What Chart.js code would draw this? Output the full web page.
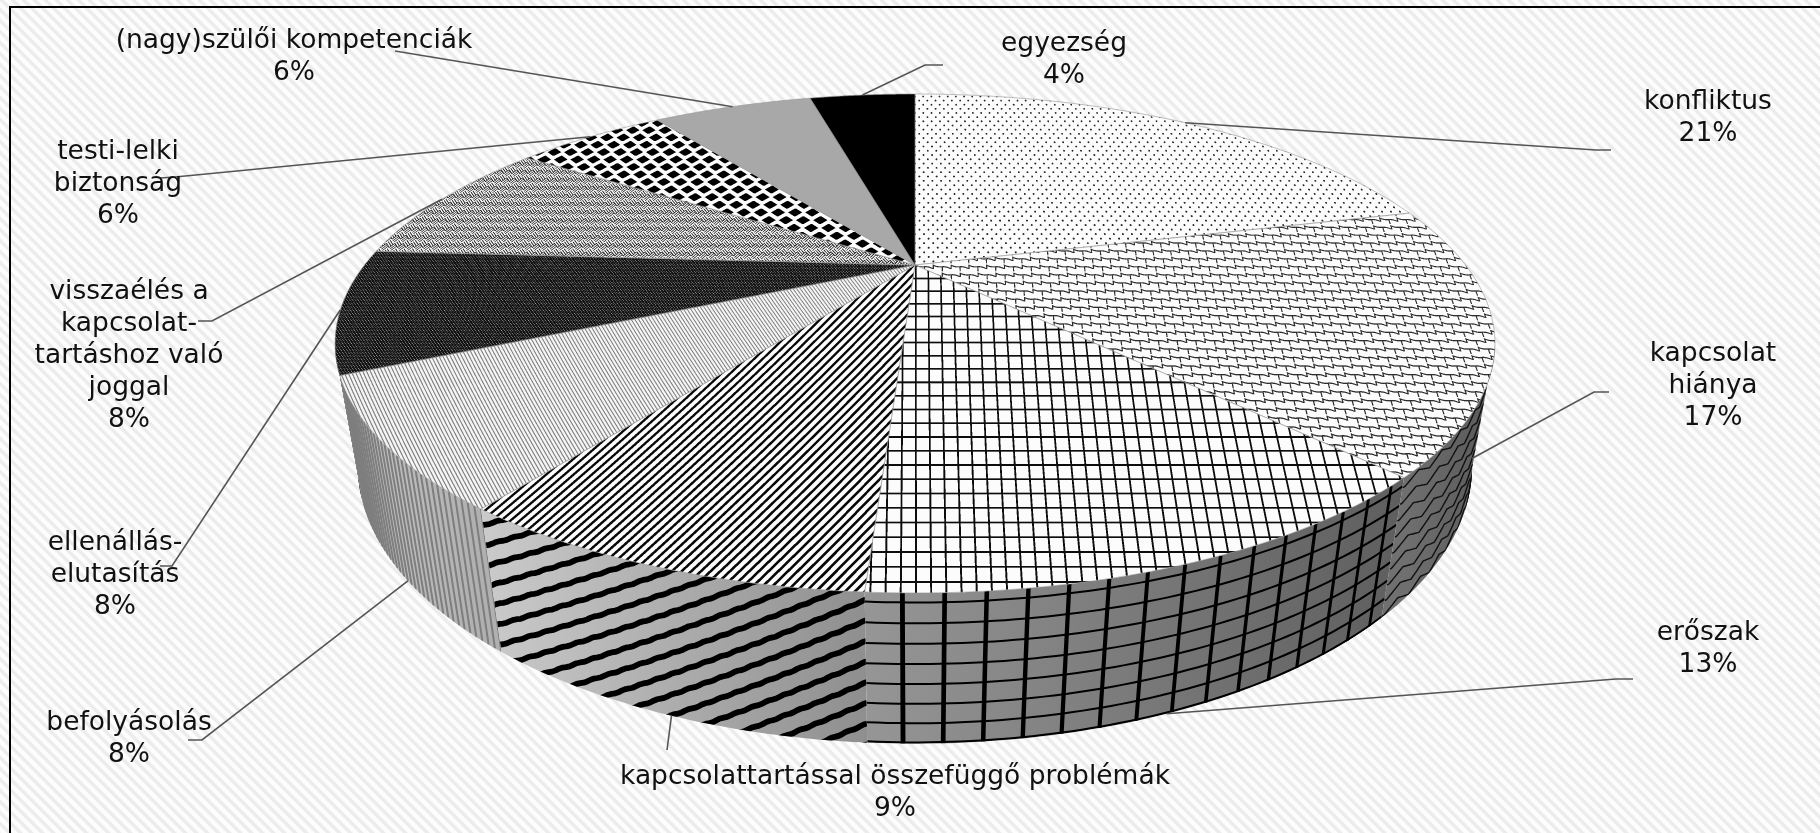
<!DOCTYPE html>
<html><head><meta charset="utf-8">
<style>html,body{margin:0;padding:0;background:#fff;overflow:hidden}canvas{display:block}</style>
<script src="https://cdn.jsdelivr.net/npm/chart.js@4"></script>
</head><body><canvas id="c" width="1820" height="833"></canvas>
<script>
const categories=["konfliktus","kapcsolat hiánya","erőszak","kapcsolattartással összefüggő problémák","befolyásolás","ellenállás-elutasítás","visszaélés a kapcsolattartáshoz való joggal","testi-lelki biztonság","(nagy)szülői kompetenciák","egyezség"];
const values=[21,17,13,9,8,8,8.45,5.55,6,4];
const labelLines=[["konfliktus"],["kapcsolat","hiánya"],["erőszak"],["kapcsolattartással összefüggő problémák"],["befolyásolás"],["ellenállás-","elutasítás"],["visszaélés a","kapcsolat-","tartáshoz való","joggal"],["testi-lelki","biztonság"],["(nagy)szülői kompetenciák"],["egyezség"]];
const labelCenters=[[1708,102],[1713,354],[1708,633],[895,777],[129,723],[115,543],[129,292],[118,152],[294,41],[1064,44]];
const leaderDepth=[0,1,1,1,1,0,0,0,0,0];
const leaderShift=[0,0,0,-0.7,0,0,0,0,0,0];
const leaderElbows=[[[1596,150],[1611,150]],[[1594,392],[1609,392]],[[1616,679],[1633,679]],[[667,750]],[[202,740],[188,740]],[[172,566],[160,566]],[[212,321],[198,321]],[[175,177],[160,178]],[[395,51]],[[925,65],[943,65]]];

// projection of the pie cylinder: unit disc (X right, Y toward viewer, Z down)
const cam={cx:915,cy:265,a:550.5,b:224.8,c:121,p:0.3146,q:0.037};
function proj(th,z){const X=Math.sin(th),Y=-Math.cos(th),w=1-cam.p*Y+cam.q*z;return [cam.cx+cam.a*X/w,cam.cy+(cam.b*Y+cam.c*z)/w];}
const RAD=Math.PI/180;
function uv(x,y){const d=y+1200;return [(x-cam.cx)*1650/d,1650*Math.log(d/1650)];}
const mod=(a,n)=>((a%n)+n)%n;
const patterns=[
 (u,v)=>{const r=Math.floor(v/5.2);const fu=mod(u+(r%2?5.2:0),10.4)-5.2;const fv=mod(v,5.2)-2.6;return fu*fu+fv*fv<1.3?0.85:0.012;},
 (u,v)=>{const h=9,l=20;const r=Math.floor(v/h);const fu=mod(u+r*10,l);const fv=mod(v,h);const yl=h*0.2+(fu/l)*h*0.45+Math.sin(fu/l*6.283)*0.8;
   return (Math.abs(fv-yl)<0.7||(fu<1.3&&fv>h*0.15&&fv<h*0.7)||(fu>=l/2&&fu<l/2+1.3&&fv>yl))?0.82:0.012;},
 (u,v)=>(mod(u,14)<1.8||mod(v,14)<1.8)?0.95:0.012,
 (u,v)=>mod(u+v*0.95,9)<3.5?0.97:0.012,
 (u,v)=>mod(u-v*0.8,4)<1.3?0.5:0.04,
 (u,v)=>(mod(u+v,3.1)<1.1&&mod(u-v,3.1)<1.1)?0.15:0.93,
 (u,v)=>{const n=9.6,p=u+v,q=u-v,even=mod(Math.floor(p/n)+Math.floor(q/n),2)<1;
   return (even?mod(q,3.2)<1.3:mod(p,3.2)<1.3)?0.9:0.012;},
 (u,v)=>{const W=20,H=9;const r=Math.floor(v/H);const fu=mod(u+(r%2?W/2:0),W)-W/2;const fv=mod(v,H)-H/2;return Math.abs(fu)/8.3+Math.abs(fv)/5<1?1:0.012;},
 ()=>0.34,
 ()=>1
];
function bgTile(){const n=44;const t=document.createElement('canvas');t.width=t.height=n;const g=t.getContext('2d');const im=g.createImageData(n,n);
 for(let y=0;y<n;y++)for(let x=0;x<n;x++){const s=mod(x-y,11);const c=s<4?236:s<5?245:s<10?253:245;const i=(y*n+x)*4;im.data[i]=im.data[i+1]=im.data[i+2]=c;im.data[i+3]=255;}
 g.putImageData(im,0,0);return t;}
function sliceTexture(idx,t0,t1){
 const xs=[],ys=[];for(let i=0;i<=48;i++){const [x,y]=proj(t0+(t1-t0)*i/48,0);xs.push(x);ys.push(y);}xs.push(cam.cx);ys.push(cam.cy);
 const x0=Math.floor(Math.min(...xs))-1,x1=Math.ceil(Math.max(...xs))+1,y0=Math.floor(Math.min(...ys))-1,y1=Math.ceil(Math.max(...ys))+1;
 const w=x1-x0,h=y1-y0,t=document.createElement('canvas');t.width=w;t.height=h;const g=t.getContext('2d');const im=g.createImageData(w,h);const f=patterns[idx];
 for(let y=0;y<h;y++)for(let x=0;x<w;x++){let s=0;for(let a=0;a<3;a++)for(let b=0;b<3;b++){const [u,v]=uv(x0+x+(a+.5)/3,y0+y+(b+.5)/3);s+=f(u,v);}
  const c=255*(1-s/9);const i=(y*w+x)*4;im.data[i]=im.data[i+1]=im.data[i+2]=c;im.data[i+3]=255;}
 g.putImageData(im,0,0);return {t,x0,y0};
}
function stripPath(ctx,ta,tb){ctx.beginPath();const n=60;for(let i=0;i<=n;i++){const [x,y]=proj(ta+(tb-ta)*i/n,0);i?ctx.lineTo(x,y):ctx.moveTo(x,y);}for(let i=n;i>=0;i--){const [x,y]=proj(ta+(tb-ta)*i/n,1);ctx.lineTo(x,y);}ctx.closePath();}
function polyline(ctx,fn,n){ctx.beginPath();for(let i=0;i<=n;i++){const [x,y]=fn(i/n);i?ctx.lineTo(x,y):ctx.moveTo(x,y);}ctx.stroke();}
const wallShades=[null,['#707070','#585858'],['#969696','#5e5e5e'],['#cbcbcb','#8f8f8f'],['#c6c6c6','#b0b0b0'],['#a0a0a0','#a8a8a8']];
function drawWall(ctx,i,t0,t1,vis0,vis1){
 const ta=Math.max(t0,vis0),tb=Math.min(t1,vis1);if(tb<=ta)return;
 const pa=proj(ta,0),pb=proj(tb,0);
 const shades=wallShades[i];if(!shades)return;
 const g=ctx.createLinearGradient(pb[0],0,pa[0],0);g.addColorStop(0,shades[0]);g.addColorStop(1,shades[1]);
 ctx.save();stripPath(ctx,ta,tb);ctx.fillStyle=g;ctx.fill();ctx.clip();ctx.strokeStyle='#000';ctx.lineCap='butt';
 if(i===1){ctx.lineWidth=1.4;ctx.strokeStyle='#111';for(let z=0.02;z<1.1;z+=0.115){polyline(ctx,s=>{const th=ta+(tb-ta)*s;const w=(th/RAD)%4.2/4.2;return proj(th,z+(w<.5?w:1-w)*0.11);},160);}}
 if(i===2){ctx.lineWidth=2;for(let z=0.06;z<1;z+=0.133){polyline(ctx,s=>proj(ta+(tb-ta)*s,z),60);}
   for(let d=t1/RAD-2.7;d>t0/RAD;d-=3.02){const th=d*RAD;ctx.lineWidth=5-2.4*(t1/RAD-d)/47;polyline(ctx,s=>proj(th,s),4);}}
 if(i===3){ctx.lineWidth=5.8;ctx.lineJoin='round';const x0=proj(t0,1)[0];
   for(let k=-14;k<8;k++){const yk=620+20.7*k;polyline(ctx,s=>{const t=s*420;const j=Math.sin(t*1.4)*0.5;return [x0-t,yk+0.42*t-0.000192*t*t+j];},120);}}
 if(i===4||i===5){ctx.lineWidth=i===4?2:1.4;ctx.strokeStyle=i===4?'#7e7e7e':'#6a6a6a';for(let d=ta/RAD;d<tb/RAD;d+=0.8){polyline(ctx,s=>proj(d*RAD,s),2);}}
 ctx.restore();
}
const pie3d={id:'pie3d',
 beforeDraw(chart){const ctx=chart.ctx;ctx.save();ctx.fillStyle=ctx.createPattern(bgTile(),'repeat');ctx.fillRect(0,0,1820,833);
  ctx.fillStyle='#000';ctx.fillRect(9,6,1811,2);ctx.fillRect(9,6,2,827);ctx.restore();},
 beforeDatasetsDraw(chart){
  const ctx=chart.ctx,arcs=chart.getDatasetMeta(0).data;
  // library arcs start at -PI/2 going clockwise, shift so 0 = top
  const ang=arcs.map(a=>[a.startAngle+Math.PI/2,a.endAngle+Math.PI/2]);
  const vis0=108*RAD,vis1=252*RAD;
  ctx.save();
  const order=[5,1,4,2,3];
  order.forEach(i=>drawWall(ctx,i,ang[i][0],ang[i][1],vis0,vis1));
  ang.forEach(([t0,t1],i)=>{
   const path=()=>{ctx.beginPath();ctx.moveTo(cam.cx,cam.cy);const n=80;for(let k=0;k<=n;k++){const [x,y]=proj(t0+(t1-t0)*k/n,0);ctx.lineTo(x,y);}ctx.closePath();};
   const {t,x0,y0}=sliceTexture(i,t0,t1);
   ctx.save();path();ctx.clip();ctx.drawImage(t,x0,y0);ctx.restore();
   path();ctx.strokeStyle='rgba(150,150,150,0.6)';ctx.lineWidth=1;ctx.stroke();
  });
  ctx.restore();
  return false;
 },
 afterDraw(chart){
  const ctx=chart.ctx,arcs=chart.getDatasetMeta(0).data;
  ctx.save();ctx.strokeStyle='#555';ctx.lineWidth=1.6;
  arcs.forEach((a,i)=>{const th=(a.startAngle+a.endAngle)/2+Math.PI/2+leaderShift[i]*RAD;const p=proj(th,leaderDepth[i]);const e=leaderElbows[i];
   ctx.beginPath();ctx.moveTo(p[0],p[1]);e.forEach(q=>ctx.lineTo(q[0],q[1]));ctx.stroke();});
  ctx.font='26.5px "DejaVu Sans"';ctx.fillStyle='#111';ctx.textAlign='center';ctx.textBaseline='middle';
  const lh=32;
  labelLines.forEach((ls,i)=>{const [x,y]=labelCenters[i];const lines=[...ls,Math.round(values[i])+'%'];lines.forEach((s,k)=>ctx.fillText(s,x,y+k*lh));});
  ctx.restore();
 }
};
new Chart(document.getElementById('c'),{type:'pie',data:{labels:categories,datasets:[{data:values,borderWidth:0}]},
 options:{responsive:false,animation:false,rotation:0,plugins:{legend:{display:false},tooltip:{enabled:false}}},plugins:[pie3d]});
</script></body></html>
